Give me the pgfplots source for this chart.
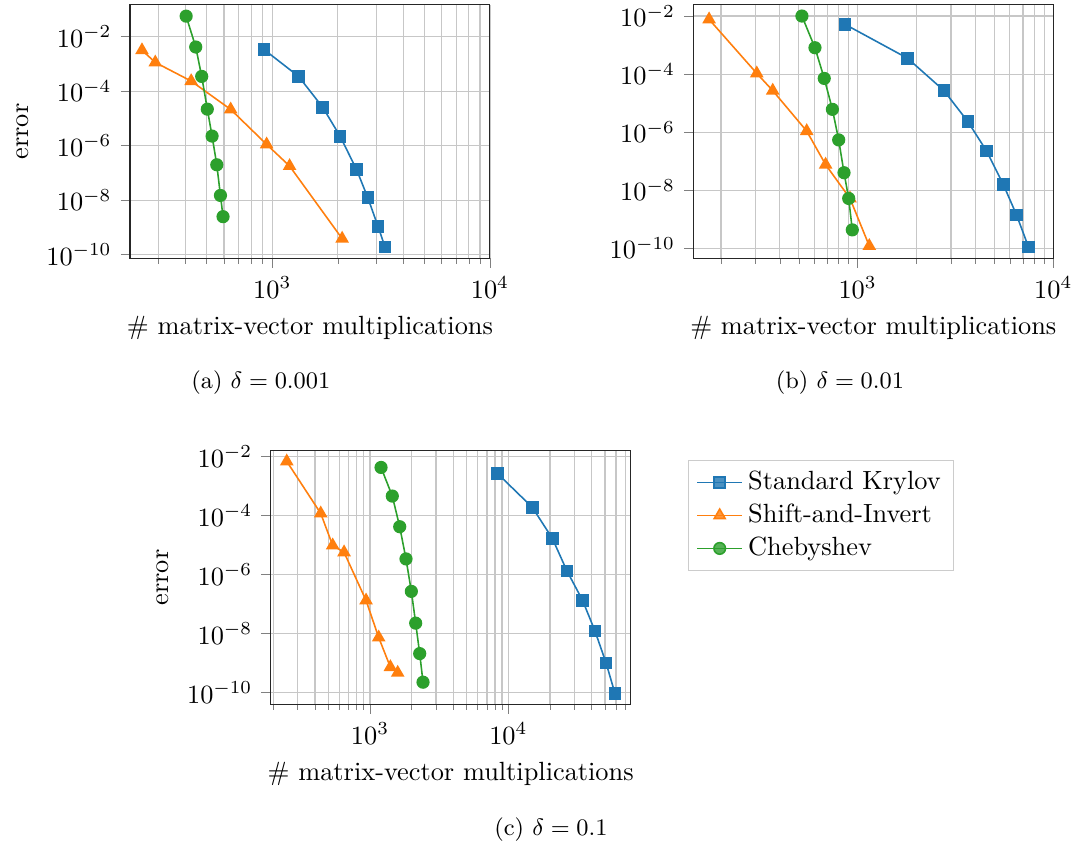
\documentclass[border=0pt]{standalone}
\usepackage{pgfplots}
\pgfplotsset{compat=1.18}

\definecolor{c0}{RGB}{31,119,180}
\definecolor{c1}{RGB}{255,127,14}
\definecolor{c2}{RGB}{44,160,44}
\def\pxu{0.3798}

\pgfplotsset{
  convaxis/.style={
    scale only axis,
    width=136.7pt, height=96.3pt,
    tick align=outside, tick pos=left,
    axis line style={black!85},
    xmajorgrids, xminorgrids, ymajorgrids,
    major grid style={white!78!black, line width=0.45pt},
    minor grid style={white!78!black, line width=0.45pt},
    yminorticks=false,
    ytick={1e-10,1e-8,1e-6,1e-4,1e-2},
    major tick length=3.5pt, minor tick length=2pt,
    xlabel={\# matrix-vector multiplications},
  },
  kry/.style={c0, semithick, mark=square*, mark size=2.1pt},
  sai/.style={c1, semithick, mark=triangle*, mark size=2.4pt},
  che/.style={c2, semithick, mark=*, mark size=2.2pt},
}

\begin{document}
\begin{tikzpicture}
\useasboundingbox (0,0) rectangle (1078*\pxu pt,-845*\pxu pt);

% (a) delta = 0.001
\begin{loglogaxis}[convaxis, at={(130*\pxu pt,-258.3*\pxu pt)}, anchor=south west,
  ylabel={error}, xmin=222, xmax=1e4, ymin=7.4e-11, ymax=0.149]
\addplot[kry] coordinates {(916,3.4e-3) (1321,3.5e-4) (1707,2.55e-5) (2051,2.2e-6)
  (2438,1.35e-7) (2748,1.24e-8) (3064,1.07e-9) (3299,1.9e-10)};
\addplot[sai] coordinates {(252,3.2e-3) (290,1.14e-3) (424,2.36e-4) (644,2.15e-5)
  (942,1.12e-6) (1201,1.8e-7) (2094,3.9e-10)};
\addplot[che] coordinates {(402,5.7e-2) (445,4.2e-3) (474,3.5e-4) (503,2.2e-5)
  (529,2.26e-6) (556,2.0e-7) (578,1.5e-8) (594,2.5e-9)};
\end{loglogaxis}

% (b) delta = 0.01
\begin{loglogaxis}[convaxis, at={(693.3*\pxu pt,-258.3*\pxu pt)}, anchor=south west,
  xmin=144.5, xmax=1e4, ymin=4.5e-11, ymax=0.0245]
\addplot[kry] coordinates {(861,5.2e-3) (1801,3.5e-4) (2762,2.7e-5) (3662,2.3e-6)
  (4563,2.24e-7) (5550,1.6e-8) (6494,1.4e-9) (7477,1.1e-10)};
\addplot[sai] coordinates {(174,7.7e-3) (305,1.06e-4) (368,2.7e-5) (549,1.09e-6)
  (686,7.6e-8) (914,5.2e-9) (1147,1.2e-10)};
\addplot[che] coordinates {(519,1.0e-2) (605,8.1e-4) (675,7.1e-5) (743,6.1e-6)
  (800,5.4e-7) (852,4.0e-8) (900,5.2e-9) (939,4.3e-10)};
\end{loglogaxis}

% (c) delta = 0.1
\begin{loglogaxis}[convaxis, at={(270.7*\pxu pt,-704.3*\pxu pt)}, anchor=south west,
  ylabel={error}, xmin=191.4, xmax=76560, ymin=4.0e-11, ymax=0.0158]
\addplot[kry] coordinates {(8328,2.7e-3) (14910,1.9e-4) (20800,1.69e-5) (26550,1.32e-6)
  (34430,1.33e-7) (42330,1.21e-8) (50850,1.02e-9) (59020,9.3e-11)};
\addplot[sai] coordinates {(250,6.9e-3) (440,1.19e-4) (537,9.8e-6) (649,5.7e-6)
  (936,1.33e-7) (1155,7.4e-9) (1403,7.3e-10) (1585,4.7e-10)};
\addplot[che] coordinates {(1201,4.3e-3) (1449,4.6e-4) (1639,4.2e-5) (1820,3.4e-6)
  (1990,2.7e-7) (2138,2.26e-8) (2286,2.1e-9) (2416,2.25e-10)};
\end{loglogaxis}

% legend
\begin{axis}[at={(688*\pxu pt,-460*\pxu pt)}, anchor=north west, hide axis,
  scale only axis, width=10pt, height=10pt, xmin=0, xmax=1, ymin=0, ymax=1,
  legend cell align=left,
  legend style={at={(0,1)}, anchor=north west, draw=white!80!black,
    fill opacity=0.8, draw opacity=1, text opacity=1}]
\addlegendimage{kry}
\addlegendentry{Standard Krylov}
\addlegendimage{sai}
\addlegendentry{Shift-and-Invert}
\addlegendimage{che}
\addlegendentry{Chebyshev}
\end{axis}

\node[anchor=base, font=\small] at (260.8*\pxu pt,-388.3*\pxu pt) {(a) $\delta = 0.001$};
\node[anchor=base, font=\small] at (840*\pxu pt,-388*\pxu pt) {(b) $\delta = 0.01$};
\node[anchor=base, font=\small] at (551*\pxu pt,-835.7*\pxu pt) {(c) $\delta = 0.1$};
\end{tikzpicture}
\end{document}
